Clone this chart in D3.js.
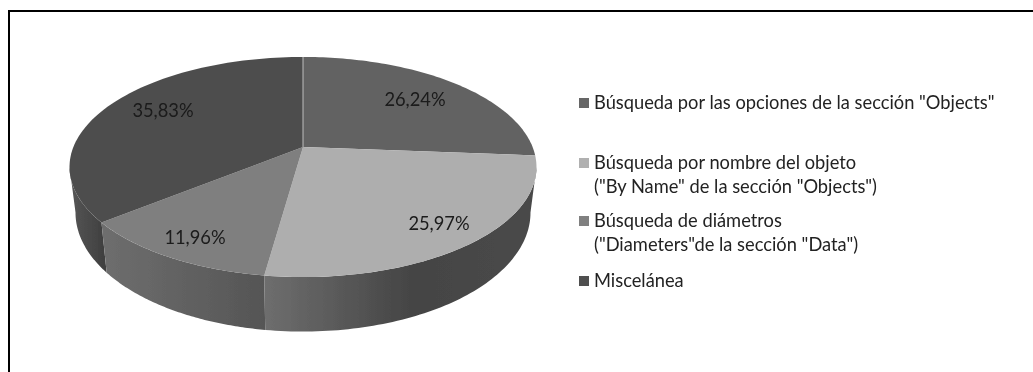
<!DOCTYPE html>
<html><head><meta charset="utf-8">
<script src="https://cdn.jsdelivr.net/npm/d3@7"></script>
<style>html,body{margin:0;padding:0;background:#fff}svg{display:block}</style>
</head><body><svg id="c" width="1033" height="372"></svg>
<script>
const categories = ['Búsqueda por las opciones de la sección "Objects"','Búsqueda por nombre del objeto','Búsqueda de diámetros','Miscelánea'];
const secondLines = [null,'("By Name" de la sección "Objects")','("Diameters"de la sección "Data")',null];
const values = [26.24,25.97,11.96,35.83];
const valueLabels = ['26,24%','25,97%','11,96%','35,83%'];
const topColors = ['#626262','#aeaeae','#7f7f7f','#4d4d4d'];
const sideStops = [null,['#6e6e6e','#444444','#4a4a4a'],['#6e6e6e','#555555'],['#565656','#3e3e3e']];
const legendColors = ['#666666','#b0b0b0','#808080','#4f4f4f'];

const svg = d3.select('#c');
svg.append('rect').attr('x',9).attr('y',11).attr('width',1040).attr('height',380).attr('fill','#fff').attr('stroke','#000').attr('stroke-width',2);
const defs = svg.append('defs');
defs.append('filter').attr('id','soft').append('feGaussianBlur').attr('stdDeviation',0.45);
const g = svg.append('g').attr('filter','url(#soft)');

const k = -0.1818;
const upper = {cx:303, cy:147, R:229.6, S:106.4};
const lower = {cx:303, cy:191, R:223.7, S:115};
const proj = (p,a)=>{const u=Math.sin(a),v=-Math.cos(a),w=1+k*v;return [p.cx+p.R*u/w,p.cy+p.S*v/w];};
const arcs = d3.pie().sort(null).value(d=>d)(values);
const sample = (a0,a1)=>d3.range(0,81).map(i=>a0+(a1-a0)*i/80);
const line = d3.line();
// angles where the rim reaches its widest point on each side
const rightEdge = Math.acos(k), leftEdge = 2*Math.PI-Math.acos(k);

const sideSpans = {1:[rightEdge,arcs[1].endAngle],2:[arcs[2].startAngle,arcs[2].endAngle],3:[arcs[3].startAngle,leftEdge]};
[3,2,1].forEach(i=>{
  const [a0,a1]=sideSpans[i];
  const t=sample(a0,a1).map(a=>proj(upper,a)), b=sample(a0,a1).map(a=>proj(lower,a));
  const xs=[...t,...b].map(d=>d[0]);
  const lg=defs.append('linearGradient').attr('id','side'+i).attr('gradientUnits','userSpaceOnUse')
    .attr('x1',d3.min(xs)).attr('x2',d3.max(xs)).attr('y1',0).attr('y2',0);
  const st=sideStops[i];
  st.forEach((c,j)=>lg.append('stop').attr('offset',i===1?[0,0.55,1][j]:j/(st.length-1)).attr('stop-color',c));
  g.append('path').attr('d',line([...t,...b.reverse()])+'Z').attr('fill',`url(#side${i})`);
});
arcs.forEach((d,i)=>{
  g.append('path').attr('d',line([[upper.cx,upper.cy],...sample(d.startAngle,d.endAngle).map(a=>proj(upper,a))])+'Z').attr('fill',topColors[i]);
});
g.append('path').attr('d',line([[upper.cx,upper.cy],proj(upper,0)])).attr('stroke','#bdbdbd').attr('stroke-width',1).attr('fill','none');

const labelPos=[[415,100],[439,224],[195,238],[163,111]];
const font='Lato, Carlito, sans-serif';
arcs.forEach((d,i)=>{
  g.append('text').attr('x',labelPos[i][0]).attr('y',labelPos[i][1]+6).attr('text-anchor','middle')
   .attr('font-family',font).attr('font-size',18.3).attr('fill','#1a1a1a').text(valueLabels[i]);
});
const legY=[103,163,221,281];
categories.forEach((c,i)=>{
  g.append('rect').attr('x',579).attr('y',legY[i]-5).attr('width',10).attr('height',10).attr('fill',legendColors[i]);
  g.append('text').attr('x',594).attr('y',legY[i]+6).attr('font-family',font).attr('font-size',18.3).attr('fill','#222').text(c);
  if(secondLines[i]) g.append('text').attr('x',594).attr('y',legY[i]+30).attr('font-family',font).attr('font-size',18.3).attr('fill','#222').text(secondLines[i]);
});
</script></body></html>
